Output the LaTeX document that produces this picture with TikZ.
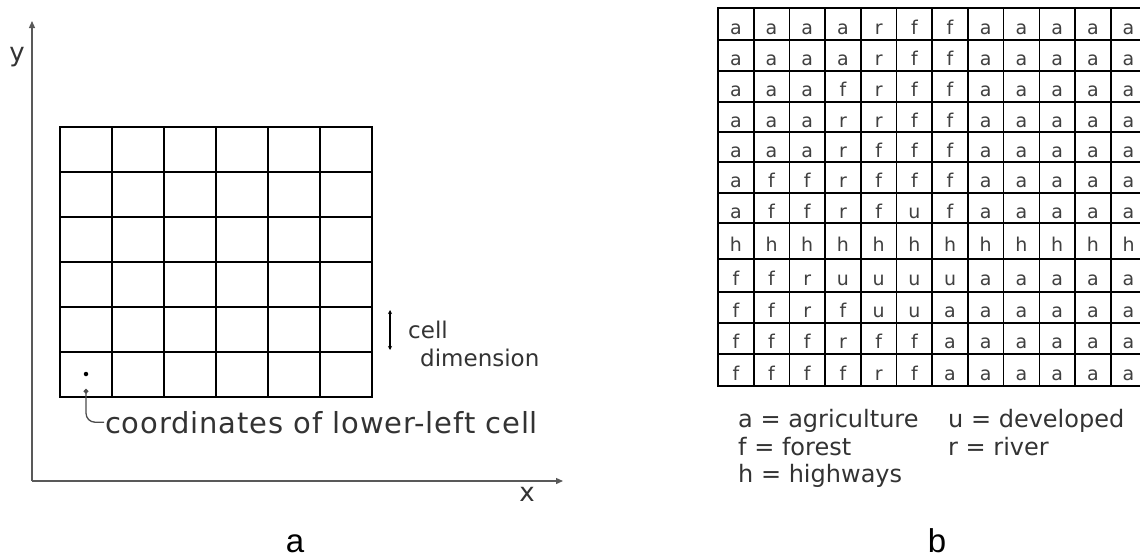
\documentclass[tikz,border=0pt]{standalone}
\usepackage{fontspec}
\setmainfont{DejaVu Sans}
\newfontfamily\capfont{Liberation Sans}
\usetikzlibrary{arrows.meta}

\begin{document}
\begin{tikzpicture}[x=1pt, y=-1pt,
    axis/.style={line width=1.3pt, draw=black!65, -{Triangle[length=7pt, width=6pt]}},
    cellgrid/.style={line width=2.6pt, line cap=rect},
    mapgrid/.style={line width=1.6pt, line cap=rect},
    dot/.style={circle, fill=black, inner sep=0pt, minimum size=4.5pt},
    lbl/.style={font=\fontsize{26}{30}\selectfont, text=black!80, inner sep=1pt},
    code/.style={font=\fontsize{19}{22}\selectfont, text=black!75, inner sep=0pt, anchor=base},
    key/.style={font=\fontsize{24}{28}\selectfont, text=black!80, inner sep=0pt, anchor=base west},
    panel/.style={font=\capfont\fontsize{33}{40}\selectfont, inner sep=0pt, anchor=base}
  ]
  \useasboundingbox (0,0) rectangle (1140,557);

  % panel a: raster cells on x/y axes
  \coordinate (o) at (32,481);
  \coordinate (ytip) at (32,21);
  \coordinate (xtip) at (563,481);
  \draw[axis] (o) -- (ytip);
  \draw[axis] (o) -- (xtip);
  \node[lbl] (ylab) at (17,57) {y};
  \node[lbl] (xlab) at (527,494) {x};

  \foreach \i in {0,...,6} {
    \draw[cellgrid] (60+52*\i,127) -- (60+52*\i,397);
    \draw[cellgrid] (60,127+45*\i) -- (372,127+45*\i);
  }

  \node[dot] (llc) at (86,374) {};
  \coordinate (lead) at (86,389);
  \node[lbl, anchor=base west, font=\addfontfeature{LetterSpace=3}\fontsize{29}{33}\selectfont]
    (coords) at (104,433) {coordinates of lower-left cell};
  \draw[line width=1.3pt, draw=black!70, {Circle[length=4.5pt]}-, rounded corners=9pt]
    (lead) |- (coords.west);

  \coordinate (dimtop) at (390,310);
  \coordinate (dimbot) at (390,350);
  \draw[line width=1.3pt, {Stealth[length=4pt, width=4pt]}-{Stealth[length=4pt, width=4pt]}]
    (dimtop) -- (dimbot);
  \node[lbl, anchor=base west, font=\fontsize{23}{27}\selectfont] (cellw) at (407,338) {cell};
  \node[lbl, anchor=base west, font=\fontsize{23}{27}\selectfont] (dimw) at (419,366) {dimension};

  \node[panel] (capa) at (295,552) {a};

  % panel b: land cover codes
  \foreach \i in {0,...,12}
    \draw[mapgrid] (718+35.7*\i,8) -- (718+35.7*\i,386);
  \foreach \y in {8,40,71,102,132,162,193,223,259,292,323,354,386}
    \draw[mapgrid] (718,\y) -- (1147,\y);

  \foreach \cells [count=\r] in {
      {a,a,a,a,r,f,f,a,a,a,a,a},
      {a,a,a,a,r,f,f,a,a,a,a,a},
      {a,a,a,f,r,f,f,a,a,a,a,a},
      {a,a,a,r,r,f,f,a,a,a,a,a},
      {a,a,a,r,f,f,f,a,a,a,a,a},
      {a,f,f,r,f,f,f,a,a,a,a,a},
      {a,f,f,r,f,u,f,a,a,a,a,a},
      {h,h,h,h,h,h,h,h,h,h,h,h},
      {f,f,r,u,u,u,u,a,a,a,a,a},
      {f,f,r,f,u,u,a,a,a,a,a,a},
      {f,f,f,r,f,f,a,a,a,a,a,a},
      {f,f,f,f,r,f,a,a,a,a,a,a}} {
    \pgfmathsetmacro\ym{{24,55.5,86.5,117,147,177.5,208,241,275.5,307.5,338.5,370}[\r-1]}
    \foreach \ch [count=\c] in \cells
      \node[code] (m-\r-\c) at (718+35.7*\c-17.85,\ym+10) {\ch};
  }

  \node[key] (ka) at (738,427) {a = agriculture};
  \node[key] (ku) at (948,427) {u = developed};
  \node[key] (kf) at (738,455) {f = forest};
  \node[key] (kr) at (948,455) {r = river};
  \node[key] (kh) at (738,482) {h = highways};

  \node[panel] (capb) at (937,552) {b};
\end{tikzpicture}
\end{document}
